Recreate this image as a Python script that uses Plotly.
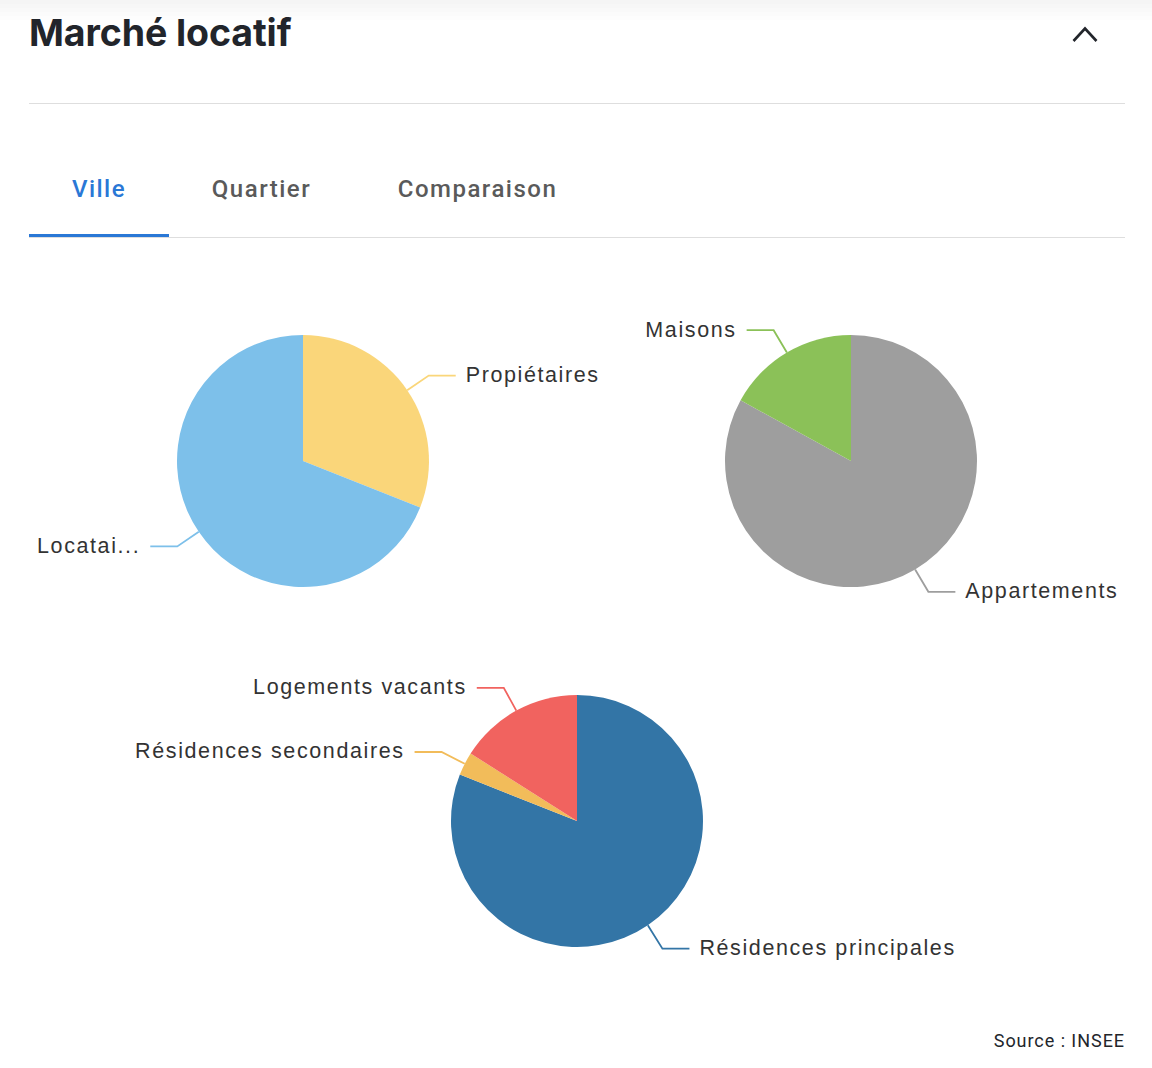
import math
import plotly.graph_objects as go

W, H = 1152, 1068

# values (percent)
tenure_labels = ["Propiétaires", "Locatai..."]
tenure_values = [31, 69]
tenure_colors = ["#FAD67A", "#7DC0EA"]

housing_labels = ["Appartements", "Maisons"]
housing_values = [83, 17]
housing_colors = ["#9E9E9E", "#8BC158"]

usage_labels = ["Résidences principales", "Résidences secondaires", "Logements vacants"]
usage_values = [81, 3, 16]
usage_colors = ["#3375A6", "#F2BC5A", "#F1635F"]

tab_labels = ["Ville", "Quartier", "Comparaison"]
tab_colors = ["#2A78D6", "#5A5A5A", "#5A5A5A"]

RADIUS = 126
pies = [
    (303, 461, tenure_labels, tenure_values, tenure_colors),
    (851, 461, housing_labels, housing_values, housing_colors),
    (577, 821, usage_labels, usage_values, usage_colors),
]
# the label that sits a little lower than its slice angle gives
label_nudge = {"Résidences principales": 2}

fig = go.Figure()


def add_pie(cx, cy, labels, values, colors):
    fig.add_trace(go.Pie(
        labels=labels, values=values, sort=False, direction="clockwise", rotation=0,
        textinfo="none", hoverinfo="label+percent", showlegend=False,
        marker=dict(colors=colors, line=dict(width=0)),
        domain=dict(x=[(cx - RADIUS) / W, (cx + RADIUS) / W],
                    y=[1 - (cy + RADIUS) / H, 1 - (cy - RADIUS) / H]),
    ))
    # leader lines follow the middle angle of each slice
    total = sum(values)
    start = 0
    for label, value, color in zip(labels, values, colors):
        mid = math.radians((start + value / 2) / total * 360)
        start += value
        sx, sy = math.sin(mid), -math.cos(mid)
        side = 1 if sx >= 0 else -1
        x0, y0 = cx + RADIUS * sx, cy + RADIUS * sy
        x1, y1 = cx + (RADIUS + 26) * sx, cy + (RADIUS + 26) * sy + label_nudge.get(label, 0)
        x2 = x1 + side * 27
        fig.add_trace(go.Scatter(
            x=[x0, x1, x2], y=[y0, y1, y1], mode="lines", hoverinfo="skip", showlegend=False,
            line=dict(color=color, width=1.8),
        ))
        fig.add_trace(go.Scatter(
            x=[x2 + side * 10], y=[y1 + 1], mode="text", text=[label], hoverinfo="skip", showlegend=False,
            textposition="middle right" if side > 0 else "middle left",
            textfont=dict(family="Liberation Sans", size=21.5, color="#333333"),
        ))


for cx, cy, labels, values, colors in pies:
    add_pie(cx, cy, labels, values, colors)

# page furniture around the charts
fig.add_trace(go.Scatter(
    x=[1073.5, 1085, 1096.5], y=[41, 28.5, 41], mode="lines", hoverinfo="skip", showlegend=False,
    line=dict(color="#22252B", width=2.6),
))
fig.add_trace(go.Scatter(
    x=[29], y=[37], mode="text", text=["Marché locatif"], hoverinfo="skip", showlegend=False,
    textposition="middle right",
    textfont=dict(family="Inter", size=37.5, weight=700, color="#22252B"),
))
for x, label, color in zip([99, 261.5, 477.5], tab_labels, tab_colors):
    fig.add_trace(go.Scatter(
        x=[x], y=[191], mode="text", text=[label], hoverinfo="skip", showlegend=False,
        textposition="middle center",
        textfont=dict(family="Roboto", size=24, weight=500, color=color),
    ))
fig.add_trace(go.Scatter(
    x=[1125], y=[1042], mode="text", text=["Source : INSEE"], hoverinfo="skip", showlegend=False,
    textposition="middle left",
    textfont=dict(family="Roboto", size=18, color="#22252B"),
))

shapes = [
    dict(type="line", x0=29, x1=1125, y0=103.5, y1=103.5, line=dict(color="#DEDEDE", width=1.2)),
    dict(type="line", x0=29, x1=1125, y0=237.5, y1=237.5, line=dict(color="#DEDEDE", width=1.2)),
    dict(type="line", x0=29, x1=169, y0=235.5, y1=235.5, line=dict(color="#2A78D6", width=3)),
]
# soft shadow along the top edge
for i in range(5):
    shapes.append(dict(type="rect", x0=0, x1=W, y0=0, y1=4 * (i + 1), layer="below",
                       fillcolor="rgba(0,0,0,0.007)", line=dict(width=0)))

fig.update_layout(
    width=W, height=H, autosize=False,
    margin=dict(l=0, r=0, t=0, b=0),
    paper_bgcolor="white", plot_bgcolor="white",
    xaxis=dict(range=[0, W], visible=False, fixedrange=True),
    yaxis=dict(range=[H, 0], visible=False, fixedrange=True),
    shapes=shapes,
)

# plotly has no letter spacing setting for text, and the page body has a default margin
css = """
var s = document.createElement('style');
s.textContent = "body{margin:0;overflow:hidden}"
  + "text[style*='Liberation']{letter-spacing:1.6px}"
  + "text[style*='Roboto']{letter-spacing:0.95px}"
  + "text[style*='font-size: 24px']{letter-spacing:1.5px}"
  + "text[style*='Inter']{letter-spacing:-0.1px}";
document.head.appendChild(s);
"""
fig.write_html("out.html", post_script=css, config=dict(displayModeBar=False))
